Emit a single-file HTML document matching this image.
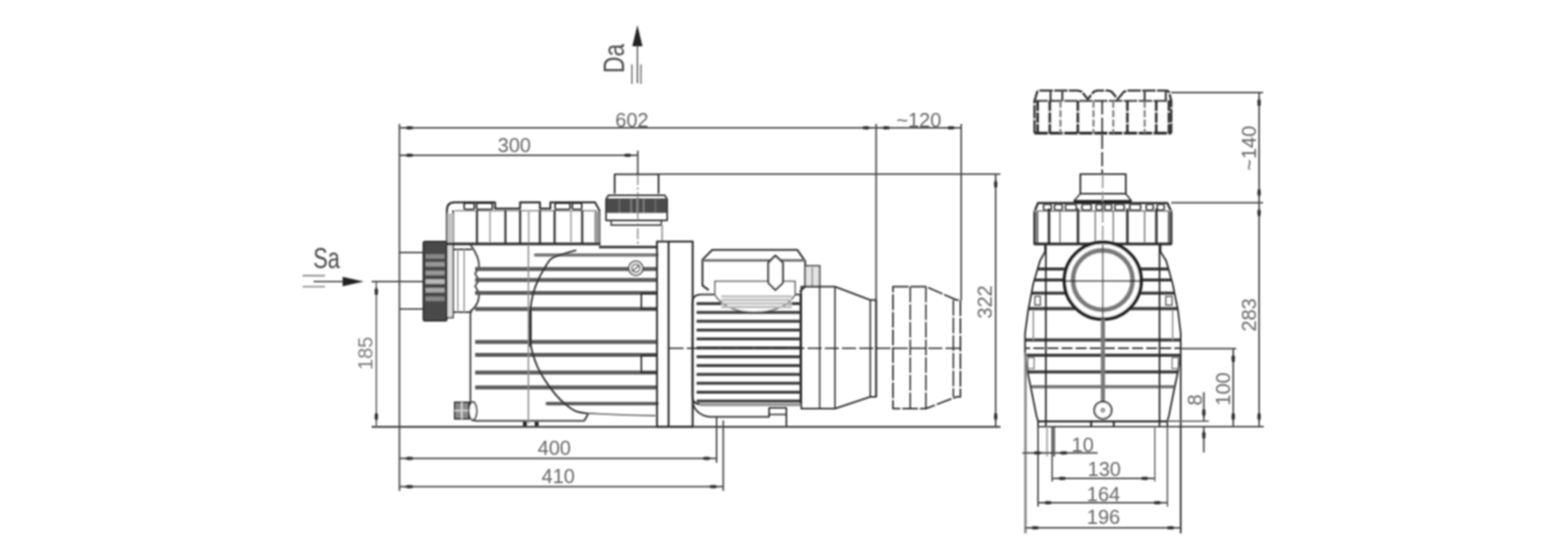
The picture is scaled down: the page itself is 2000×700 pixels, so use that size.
<!DOCTYPE html>
<html lang="en"><head><meta charset="utf-8"><title>Pump dimensions</title>
<style>
html,body{margin:0;padding:0;background:#fff;}
body{width:2000px;height:700px;overflow:hidden;}
svg{display:block;font-family:"Liberation Sans","DejaVu Sans",sans-serif;}
</style></head><body>
<svg width="2000" height="700" viewBox="0 0 2000 700">
<defs><filter id="soft" x="-2%" y="-2%" width="104%" height="104%"><feGaussianBlur stdDeviation="1.0"/></filter></defs>
<rect width="2000" height="700" fill="#fff"/>
<g filter="url(#soft)">
<line x1="509.5" y1="158" x2="509.5" y2="626" stroke="#444" stroke-width="2.0"/>
<line x1="509.5" y1="163" x2="1117.5" y2="163" stroke="#444" stroke-width="2.0"/>
<polygon points="515.5,163 520.45,160.7 526.5,161.16 526.5,164.84 520.45,165.3" fill="#333"/>
<polygon points="1111.5,163 1106.55,160.7 1100.5,161.16 1100.5,164.84 1106.55,165.3" fill="#333"/>
<text x="806" y="162" font-size="25.5" fill="#666" text-anchor="middle">602</text>
<line x1="509.5" y1="198" x2="813.5" y2="198" stroke="#444" stroke-width="2.0"/>
<polygon points="515.5,198 520.45,195.7 526.5,196.16 526.5,199.84 520.45,200.3" fill="#333"/>
<polygon points="807.5,198 802.55,195.7 796.5,196.16 796.5,199.84 802.55,200.3" fill="#333"/>
<text x="656" y="194" font-size="25.5" fill="#666" text-anchor="middle">300</text>
<line x1="813.5" y1="192" x2="813.5" y2="222" stroke="#444" stroke-width="2.0"/>
<line x1="813.5" y1="222" x2="813.5" y2="312" stroke="#8a8a8a" stroke-width="1.75" stroke-dasharray="14 3 3 3"/>
<line x1="1117.5" y1="158" x2="1117.5" y2="506" stroke="#444" stroke-width="2.0"/>
<line x1="1226" y1="158" x2="1226" y2="383" stroke="#444" stroke-width="2.0"/>
<line x1="1117.5" y1="163" x2="1226" y2="163" stroke="#444" stroke-width="2.0"/>
<polygon points="1123.5,163 1128.45,160.7 1134.5,161.16 1134.5,164.84 1128.45,165.3" fill="#333"/>
<polygon points="1220,163 1215.05,160.7 1209,161.16 1209,164.84 1215.05,165.3" fill="#333"/>
<text x="1172" y="161.5" font-size="25.5" fill="#666" text-anchor="middle">~120</text>
<line x1="840" y1="222" x2="1276" y2="222" stroke="#444" stroke-width="2.0"/>
<line x1="1270" y1="222" x2="1270" y2="544" stroke="#444" stroke-width="2.0"/>
<polygon points="1270,228 1267.7,232.95 1268.16,239 1271.84,239 1272.3,232.95" fill="#333"/>
<polygon points="1270,538 1267.7,533.05 1268.16,527 1271.84,527 1272.3,533.05" fill="#333"/>
<text x="1265" y="385" font-size="25.5" fill="#666" text-anchor="middle" transform="rotate(-90 1265 385)">322</text>
<line x1="474" y1="544.3" x2="1276" y2="544.3" stroke="#444" stroke-width="2.38"/>
<line x1="480" y1="359" x2="480" y2="544" stroke="#666" stroke-width="1.88"/>
<polygon points="480,365 477.7,369.95 478.16,376 481.84,376 482.3,369.95" fill="#333"/>
<polygon points="480,538 477.7,533.05 478.16,527 481.84,527 482.3,533.05" fill="#333"/>
<text x="475" y="450.5" font-size="25.5" fill="#7a7a7a" text-anchor="middle" transform="rotate(-90 475 450.5)">185</text>
<line x1="474" y1="359" x2="540" y2="359" stroke="#444" stroke-width="1.88"/>
<line x1="509.5" y1="584.5" x2="914" y2="584.5" stroke="#444" stroke-width="2.0"/>
<polygon points="515.5,584.5 520.45,582.2 526.5,582.66 526.5,586.34 520.45,586.8" fill="#333"/>
<polygon points="908,584.5 903.05,582.2 897,582.66 897,586.34 903.05,586.8" fill="#333"/>
<text x="707" y="580" font-size="25.5" fill="#666" text-anchor="middle">400</text>
<line x1="509.5" y1="620.5" x2="922.5" y2="620.5" stroke="#444" stroke-width="2.0"/>
<polygon points="515.5,620.5 520.45,618.2 526.5,618.66 526.5,622.34 520.45,622.8" fill="#333"/>
<polygon points="916.5,620.5 911.55,618.2 905.5,618.66 905.5,622.34 911.55,622.8" fill="#333"/>
<text x="712" y="616" font-size="25.5" fill="#666" text-anchor="middle">410</text>
<line x1="914" y1="531" x2="914" y2="590" stroke="#444" stroke-width="2.0"/>
<line x1="922.5" y1="536" x2="922.5" y2="626" stroke="#444" stroke-width="2.0"/>
<text x="416.5" y="341.5" font-size="36" fill="#4a4a4a" text-anchor="middle" textLength="34" lengthAdjust="spacingAndGlyphs">Sa</text>
<line x1="400" y1="359" x2="440" y2="359" stroke="#555" stroke-width="2.0"/>
<polygon points="464,359 437,353 437,365" fill="#222"/>
<line x1="386" y1="351.5" x2="414.5" y2="351.5" stroke="#777" stroke-width="1.88"/>
<line x1="386" y1="365.5" x2="414.5" y2="365.5" stroke="#888" stroke-width="1.88"/>
<text x="795.5" y="74.5" font-size="36" fill="#4a4a4a" text-anchor="middle" transform="rotate(-90 795.5 74.5)" textLength="37" lengthAdjust="spacingAndGlyphs">Da</text>
<line x1="813" y1="58" x2="813" y2="106" stroke="#666" stroke-width="1.88"/>
<polygon points="813,32 806.5,59 819.5,59" fill="#222"/>
<line x1="806" y1="82" x2="806" y2="107" stroke="#777" stroke-width="1.88"/>
<line x1="817.5" y1="82" x2="817.5" y2="107" stroke="#777" stroke-width="1.88"/>
<line x1="509.5" y1="322" x2="540" y2="322" stroke="#444" stroke-width="2.0"/>
<line x1="509.5" y1="394" x2="540" y2="394" stroke="#444" stroke-width="2.0"/>
<rect x="540" y="308" width="30" height="101" stroke="#262626" stroke-width="1.88" fill="#4a4a4a" rx="2"/>
<line x1="543" y1="327" x2="567" y2="327" stroke="#888" stroke-width="5.62"/>
<line x1="543" y1="337" x2="567" y2="337" stroke="#999" stroke-width="5.62"/>
<line x1="543" y1="348" x2="567" y2="348" stroke="#999" stroke-width="5.62"/>
<line x1="543" y1="359" x2="567" y2="359" stroke="#bbb" stroke-width="5.62"/>
<line x1="543" y1="370" x2="567" y2="370" stroke="#aaa" stroke-width="5.62"/>
<line x1="543" y1="381" x2="567" y2="381" stroke="#888" stroke-width="5.62"/>
<rect x="570" y="312" width="8" height="93" stroke="#262626" stroke-width="1.75" fill="#ddd" rx="0"/>
<line x1="578" y1="318" x2="602" y2="318" stroke="#262626" stroke-width="1.88"/>
<line x1="578" y1="398" x2="602" y2="398" stroke="#262626" stroke-width="1.88"/>
<line x1="584" y1="318" x2="584" y2="398" stroke="#8a8a8a" stroke-width="1.62"/>
<line x1="592" y1="318" x2="592" y2="398" stroke="#8a8a8a" stroke-width="1.62"/>
<path d="M570,311 L570,268 Q570,258 580,258 L631.5,258 L631.5,266 L644.7,266 L663.4,266 L663.4,258 L688.7,258 L688.7,266 L702,266 L702,258 L759,258 L764.5,268 L764.5,311" stroke="#262626" stroke-width="2.38" fill="none" stroke-linejoin="round"/>
<line x1="578" y1="268" x2="578" y2="311" stroke="#262626" stroke-width="2.0"/>
<rect x="592" y="259" width="13" height="8" stroke="#262626" stroke-width="2.0" fill="none" rx="2"/>
<rect x="608" y="259" width="20" height="8" stroke="#262626" stroke-width="2.0" fill="none" rx="2"/>
<rect x="708" y="259" width="19" height="8" stroke="#262626" stroke-width="2.0" fill="none" rx="2"/>
<rect x="730" y="259" width="12" height="8" stroke="#262626" stroke-width="2.0" fill="none" rx="2"/>
<line x1="580" y1="268.5" x2="762" y2="268.5" stroke="#8a8a8a" stroke-width="1.75"/>
<line x1="608.4" y1="268" x2="608.4" y2="311" stroke="#262626" stroke-width="2.5"/>
<line x1="644.7" y1="268" x2="644.7" y2="311" stroke="#262626" stroke-width="2.5"/>
<line x1="663.4" y1="268" x2="663.4" y2="311" stroke="#262626" stroke-width="2.5"/>
<line x1="688.7" y1="268" x2="688.7" y2="311" stroke="#262626" stroke-width="2.5"/>
<line x1="707.4" y1="268" x2="707.4" y2="311" stroke="#262626" stroke-width="2.5"/>
<line x1="742.6" y1="268" x2="742.6" y2="311" stroke="#262626" stroke-width="2.5"/>
<rect x="758" y="270" width="6.5" height="41" stroke="#262626" stroke-width="0.0" fill="#9a9a9a" rx="0"/>
<rect x="570.5" y="272" width="7.5" height="39" stroke="#262626" stroke-width="0.0" fill="#c4c4c4" rx="0"/>
<line x1="625" y1="268" x2="625" y2="311" stroke="#aaa" stroke-width="2.25"/>
<line x1="674.4" y1="268" x2="674.4" y2="311" stroke="#aaa" stroke-width="2.25"/>
<line x1="728.3" y1="268" x2="728.3" y2="311" stroke="#aaa" stroke-width="2.25"/>
<line x1="570" y1="311" x2="766" y2="311" stroke="#333" stroke-width="3.5"/>
<path d="M600,312 Q612,328 611,341 L606,349 L611,357 L606,365 L611,373 Q612,388 600,397 L600,530 Q600,536.7 608,536.7 L745,536.7" stroke="#444" stroke-width="2.25" fill="none" stroke-linejoin="round"/>
<line x1="764" y1="315" x2="838" y2="315" stroke="#262626" stroke-width="3.0"/>
<line x1="606" y1="343" x2="838" y2="343" stroke="#585858" stroke-width="4.88"/>
<line x1="606" y1="357" x2="838" y2="357" stroke="#585858" stroke-width="4.88"/>
<line x1="606" y1="373.5" x2="838" y2="373.5" stroke="#585858" stroke-width="4.88"/>
<line x1="606" y1="394" x2="838" y2="394" stroke="#585858" stroke-width="4.88"/>
<line x1="606" y1="436" x2="838" y2="436" stroke="#585858" stroke-width="4.88"/>
<line x1="606" y1="452.5" x2="838" y2="452.5" stroke="#585858" stroke-width="4.88"/>
<line x1="606" y1="475" x2="838" y2="475" stroke="#585858" stroke-width="4.88"/>
<line x1="606" y1="494" x2="838" y2="494" stroke="#585858" stroke-width="4.88"/>
<line x1="683" y1="325" x2="838" y2="325" stroke="#777" stroke-width="4.25" stroke-linecap="round"/>
<line x1="698" y1="514.5" x2="838" y2="514.5" stroke="#555" stroke-width="4.25" stroke-linecap="round"/>
<line x1="674" y1="312" x2="674" y2="540" stroke="#8a8a8a" stroke-width="1.75"/>
<path d="M735,319 C732.2,319.8 723.3,322.2 718,324 C712.7,325.8 707.0,326.8 703,330 C699.0,333.2 696.8,338.5 694,343 C691.2,347.5 688.7,351.7 686.4,357 C684.1,362.3 681.6,368.3 680,374.6 C678.4,380.9 677.2,385.1 676.6,395 C676.0,404.9 675.9,424.6 676.4,434 C676.9,443.4 678.1,445.6 679.7,451.4 C681.3,457.2 683.3,462.9 686,468.6 C688.7,474.3 691.9,480.0 695.7,485.7 C699.5,491.4 704.3,498.0 708.6,503 C712.9,508.0 717.2,512.2 721.5,515.8 C725.8,519.3 729.5,522.3 734.3,524.3 C739.1,526.2 747.7,527.0 750.4,527.5 L745,536.7" stroke="#262626" stroke-width="2.12" fill="none" stroke-linejoin="round"/>
<line x1="676.5" y1="396" x2="676.5" y2="442" stroke="#222" stroke-width="3.25"/>
<path d="M750,527 Q790,529 836,530" stroke="#666" stroke-width="1.88" fill="none" stroke-linejoin="round"/>
<rect x="818" y="374" width="20" height="20" stroke="#262626" stroke-width="2.0" fill="none" rx="0"/>
<rect x="818" y="453" width="20" height="22" stroke="#262626" stroke-width="2.0" fill="none" rx="0"/>
<circle cx="811" cy="342" r="9" stroke="#444" stroke-width="2.0" fill="#fff"/>
<circle cx="811" cy="342" r="5" stroke="#555" stroke-width="1.88" fill="none"/>
<line x1="806" y1="346" x2="816" y2="338" stroke="#555" stroke-width="1.75"/>
<rect x="580" y="513" width="18" height="21" stroke="#262626" stroke-width="2.0" fill="#8a8a8a" rx="0"/>
<line x1="589" y1="513" x2="589" y2="534" stroke="#ddd" stroke-width="1.88"/>
<line x1="580" y1="523.5" x2="598" y2="523.5" stroke="#ddd" stroke-width="1.88"/>
<ellipse cx="603" cy="524" rx="5" ry="11.5" stroke="#262626" stroke-width="2.0" fill="#fff"/>
<rect x="667" y="538" width="5" height="5" stroke="#262626" stroke-width="0.0" fill="#222" rx="0"/>
<rect x="682" y="538" width="5" height="5" stroke="#262626" stroke-width="0.0" fill="#222" rx="0"/>
<path d="M784,247 L784,222.3 L840,222.3 L840,247" stroke="#262626" stroke-width="2.12" fill="none" stroke-linejoin="round"/>
<path d="M776,249 L848,249 L851,254 L851,281 L773,281 L773,254 Z" stroke="#262626" stroke-width="2.0" fill="none" stroke-linejoin="round"/>
<rect x="773.5" y="253" width="77" height="18.5" stroke="#262626" stroke-width="0.0" fill="#4c4c4c" rx="0"/>
<line x1="805" y1="254" x2="805" y2="271" stroke="#7a7a7a" stroke-width="2.5"/>
<line x1="813" y1="254" x2="813" y2="271" stroke="#8a8a8a" stroke-width="2.5"/>
<line x1="821" y1="254" x2="821" y2="271" stroke="#7a7a7a" stroke-width="2.5"/>
<line x1="790" y1="254" x2="790" y2="271" stroke="#666" stroke-width="2.5"/>
<line x1="836" y1="254" x2="836" y2="271" stroke="#666" stroke-width="2.5"/>
<rect x="779.5" y="281" width="64" height="6" stroke="#262626" stroke-width="1.75" fill="none" rx="0"/>
<line x1="844.5" y1="287" x2="844.5" y2="308" stroke="#8a8a8a" stroke-width="1.88"/>
<rect x="838" y="308" width="45.5" height="236" stroke="#262626" stroke-width="2.38" fill="none" rx="0"/>
<line x1="852.8" y1="308" x2="852.8" y2="544" stroke="#262626" stroke-width="2.38"/>
<path d="M883,387 Q883,375.5 894,375.5 L1021,375.5 L1021,515.5 L894,515.5 Q883,515.5 883,505 Z" stroke="#262626" stroke-width="2.12" fill="none" stroke-linejoin="round"/>
<line x1="888.5" y1="387.0" x2="1021" y2="387.0" stroke="#3a3a3a" stroke-width="3.75"/>
<line x1="888.5" y1="398.3" x2="1021" y2="398.3" stroke="#3a3a3a" stroke-width="3.75"/>
<line x1="888.5" y1="409.6" x2="1021" y2="409.6" stroke="#3a3a3a" stroke-width="3.75"/>
<line x1="888.5" y1="420.9" x2="1021" y2="420.9" stroke="#3a3a3a" stroke-width="3.75"/>
<line x1="888.5" y1="432.2" x2="1021" y2="432.2" stroke="#3a3a3a" stroke-width="3.75"/>
<line x1="888.5" y1="443.5" x2="1021" y2="443.5" stroke="#3a3a3a" stroke-width="3.75"/>
<line x1="888.5" y1="454.8" x2="1021" y2="454.8" stroke="#3a3a3a" stroke-width="3.75"/>
<line x1="888.5" y1="466.1" x2="1021" y2="466.1" stroke="#3a3a3a" stroke-width="3.75"/>
<line x1="888.5" y1="477.4" x2="1021" y2="477.4" stroke="#3a3a3a" stroke-width="3.75"/>
<line x1="888.5" y1="488.7" x2="1021" y2="488.7" stroke="#3a3a3a" stroke-width="3.75"/>
<line x1="888.5" y1="500.0" x2="1021" y2="500.0" stroke="#3a3a3a" stroke-width="3.75"/>
<line x1="888.5" y1="511.3" x2="1021" y2="511.3" stroke="#3a3a3a" stroke-width="3.75"/>
<line x1="893" y1="516" x2="1021" y2="516" stroke="#999" stroke-width="3.75"/>
<path d="M904,370 L896,364 L896,331 L908.5,318.6 L1017,318.6 L1027,333 L1027,365.5 L1020,372" stroke="#262626" stroke-width="2.25" fill="none" stroke-linejoin="round"/>
<line x1="896" y1="332" x2="1027" y2="332" stroke="#666" stroke-width="3.0"/>
<path d="M912,358.6 L1014,358.6 L1014,376 Q1000,398 962,398 Q926,398 912,376 Z" stroke="#555" stroke-width="1.88" fill="#fff" stroke-linejoin="round"/>
<line x1="920" y1="378" x2="1010" y2="378" stroke="#bbb" stroke-width="3.0"/>
<line x1="920" y1="382.5" x2="1010" y2="382.5" stroke="#bbb" stroke-width="3.0"/>
<line x1="920" y1="387" x2="1010" y2="387" stroke="#bbb" stroke-width="3.0"/>
<line x1="920" y1="391.5" x2="1010" y2="391.5" stroke="#bbb" stroke-width="3.0"/>
<path d="M989,326 L998.5,335 L998.5,361 L989,370 L980,361 L980,335 Z" stroke="#262626" stroke-width="2.5" fill="#fff" stroke-linejoin="round"/>
<rect x="1027" y="339" width="18.5" height="26" stroke="#444" stroke-width="2.12" fill="#e4e4e4" rx="0"/>
<line x1="1036" y1="341" x2="1036" y2="364" stroke="#8a8a8a" stroke-width="1.88"/>
<path d="M1022,365.5 L1065,365.5 L1110,382.5 L1117.5,382.5 L1117.5,506 L1110,506 L1065,521 L1022,521 Z" stroke="#262626" stroke-width="2.0" fill="none" stroke-linejoin="round"/>
<line x1="1045.5" y1="365.5" x2="1045.5" y2="521" stroke="#262626" stroke-width="1.75"/>
<line x1="1065" y1="365.5" x2="1065" y2="521" stroke="#262626" stroke-width="1.75"/>
<line x1="1110" y1="382.5" x2="1110" y2="506" stroke="#262626" stroke-width="1.75"/>
<path d="M1139,365.5 L1181,365.5 L1220,382.5 L1225,382.5 L1225,506 L1220,506 L1181,521 L1139,521 Z" stroke="#262626" stroke-width="2.0" fill="none" stroke-linejoin="round" stroke-dasharray="20 2.5"/>
<line x1="1161" y1="365.5" x2="1161" y2="521" stroke="#262626" stroke-width="1.75" stroke-dasharray="20 2.5"/>
<line x1="1181" y1="365.5" x2="1181" y2="521" stroke="#262626" stroke-width="1.75" stroke-dasharray="20 2.5"/>
<line x1="1216" y1="382.5" x2="1216" y2="506" stroke="#262626" stroke-width="1.75" stroke-dasharray="20 2.5"/>
<line x1="854" y1="444" x2="1226" y2="444" stroke="#262626" stroke-width="1.75" stroke-dasharray="18 4"/>
<path d="M884,515 Q888,529 905,531.5 L981,531.5 L981,520 L1003,520 L1003,544" stroke="#262626" stroke-width="2.0" fill="none" stroke-linejoin="round"/>
<line x1="981" y1="528.5" x2="1003" y2="528.5" stroke="#262626" stroke-width="1.75"/>
<path d="M1319.5,169.7 L1319.5,128.6 L1323,117 L1326,115.5 L1375,115.5 L1380,117 L1387.5,126.5 L1395,117 L1399,115.5 L1414,115.5 L1418,117 L1425.7,126.5 L1433.5,117 L1438,115.5 L1488,115.5 L1491,117 L1494,128.6 L1494,169.7" stroke="#262626" stroke-width="2.62" fill="none" stroke-linejoin="round" stroke-dasharray="17 1.8"/>
<line x1="1319.5" y1="169.7" x2="1494" y2="169.7" stroke="#262626" stroke-width="3.5" stroke-dasharray="17 2"/>
<line x1="1319.5" y1="128.6" x2="1494" y2="128.6" stroke="#333" stroke-width="2.38" stroke-dasharray="17 2"/>
<line x1="1323.5" y1="128.6" x2="1323.5" y2="169.7" stroke="#262626" stroke-width="3.12" stroke-dasharray="13 1.8"/>
<line x1="1339" y1="128.6" x2="1339" y2="169.7" stroke="#262626" stroke-width="3.12" stroke-dasharray="13 1.8"/>
<line x1="1374.8" y1="128.6" x2="1374.8" y2="169.7" stroke="#262626" stroke-width="3.12" stroke-dasharray="13 1.8"/>
<line x1="1438" y1="128.6" x2="1438" y2="169.7" stroke="#262626" stroke-width="3.12" stroke-dasharray="13 1.8"/>
<line x1="1474.8" y1="128.6" x2="1474.8" y2="169.7" stroke="#262626" stroke-width="3.12" stroke-dasharray="13 1.8"/>
<line x1="1491" y1="128.6" x2="1491" y2="169.7" stroke="#262626" stroke-width="3.12" stroke-dasharray="13 1.8"/>
<line x1="1352.6" y1="128.6" x2="1352.6" y2="169.7" stroke="#777" stroke-width="2.5" stroke-dasharray="9 3"/>
<line x1="1394.8" y1="128.6" x2="1394.8" y2="169.7" stroke="#777" stroke-width="2.5" stroke-dasharray="9 3"/>
<line x1="1420" y1="128.6" x2="1420" y2="169.7" stroke="#777" stroke-width="2.5" stroke-dasharray="9 3"/>
<line x1="1460" y1="128.6" x2="1460" y2="169.7" stroke="#777" stroke-width="2.5" stroke-dasharray="9 3"/>
<line x1="1340" y1="117" x2="1340" y2="128" stroke="#333" stroke-width="2.5"/>
<line x1="1355" y1="117" x2="1355" y2="128" stroke="#333" stroke-width="2.5"/>
<line x1="1460" y1="117" x2="1460" y2="128" stroke="#333" stroke-width="2.5"/>
<line x1="1487" y1="117" x2="1487" y2="128" stroke="#333" stroke-width="2.5"/>
<line x1="1405.8" y1="128" x2="1405.8" y2="222" stroke="#262626" stroke-width="2.0" stroke-dasharray="18 4"/>
<line x1="1494" y1="118" x2="1611" y2="118" stroke="#444" stroke-width="2.0"/>
<line x1="1494" y1="258.5" x2="1611" y2="258.5" stroke="#444" stroke-width="2.0"/>
<line x1="1606" y1="118" x2="1606" y2="258.5" stroke="#444" stroke-width="2.0"/>
<polygon points="1606,124 1603.7,128.95 1604.16,135 1607.84,135 1608.3,128.95" fill="#333"/>
<polygon points="1606,252.5 1603.7,247.55 1604.16,241.5 1607.84,241.5 1608.3,247.55" fill="#333"/>
<text x="1601.5" y="189" font-size="25.5" fill="#666" text-anchor="middle" transform="rotate(-90 1601.5 189)">~140</text>
<line x1="1606" y1="258.5" x2="1606" y2="544" stroke="#444" stroke-width="2.0"/>
<polygon points="1606,264.5 1603.7,269.45 1604.16,275.5 1607.84,275.5 1608.3,269.45" fill="#333"/>
<polygon points="1606,538 1603.7,533.05 1604.16,527 1607.84,527 1608.3,533.05" fill="#333"/>
<text x="1601.5" y="401.5" font-size="25.5" fill="#666" text-anchor="middle" transform="rotate(-90 1601.5 401.5)">283</text>
<line x1="1324" y1="544" x2="1612" y2="544" stroke="#444" stroke-width="2.12"/>
<path d="M1378,247 L1378,222 L1436,222 L1436,247" stroke="#262626" stroke-width="2.12" fill="none" stroke-linejoin="round"/>
<path d="M1378,247 L1370,256 L1443,256 L1436,247 Z" stroke="#262626" stroke-width="1.88" fill="none" stroke-linejoin="round"/>
<line x1="1370" y1="257" x2="1443" y2="257" stroke="#222" stroke-width="3.75"/>
<line x1="1406.5" y1="222" x2="1406.5" y2="312" stroke="#8a8a8a" stroke-width="1.75" stroke-dasharray="18 4"/>
<path d="M1319.5,311 L1319.5,270 L1324,258.8 L1489,258.8 L1494,270 L1494,311 Z" stroke="#262626" stroke-width="2.75" fill="none" stroke-linejoin="round"/>
<line x1="1319" y1="269" x2="1494" y2="269" stroke="#8a8a8a" stroke-width="1.88"/>
<rect x="1331" y="260.5" width="10" height="7.5" stroke="#444" stroke-width="2.12" fill="none" rx="2.5"/>
<rect x="1345" y="260.5" width="10" height="7.5" stroke="#444" stroke-width="2.12" fill="none" rx="2.5"/>
<rect x="1359" y="260.5" width="14" height="7.5" stroke="#444" stroke-width="2.12" fill="none" rx="2.5"/>
<rect x="1380" y="260.5" width="12" height="7.5" stroke="#444" stroke-width="2.12" fill="none" rx="2.5"/>
<rect x="1398" y="260.5" width="8" height="7.5" stroke="#444" stroke-width="2.12" fill="none" rx="2.5"/>
<rect x="1409" y="260.5" width="9" height="7.5" stroke="#444" stroke-width="2.12" fill="none" rx="2.5"/>
<rect x="1422" y="260.5" width="12" height="7.5" stroke="#444" stroke-width="2.12" fill="none" rx="2.5"/>
<rect x="1441" y="260.5" width="14" height="7.5" stroke="#444" stroke-width="2.12" fill="none" rx="2.5"/>
<rect x="1462" y="260.5" width="9" height="7.5" stroke="#444" stroke-width="2.12" fill="none" rx="2.5"/>
<rect x="1476" y="260.5" width="9" height="7.5" stroke="#444" stroke-width="2.12" fill="none" rx="2.5"/>
<line x1="1338" y1="266" x2="1338" y2="311" stroke="#262626" stroke-width="3.0"/>
<line x1="1375" y1="266" x2="1375" y2="311" stroke="#262626" stroke-width="3.0"/>
<line x1="1438" y1="266" x2="1438" y2="311" stroke="#262626" stroke-width="3.0"/>
<line x1="1475" y1="266" x2="1475" y2="311" stroke="#262626" stroke-width="3.0"/>
<line x1="1352" y1="269" x2="1352" y2="311" stroke="#888" stroke-width="2.0"/>
<line x1="1397" y1="269" x2="1397" y2="311" stroke="#888" stroke-width="2.0"/>
<line x1="1420" y1="269" x2="1420" y2="311" stroke="#888" stroke-width="2.0"/>
<line x1="1460" y1="269" x2="1460" y2="311" stroke="#888" stroke-width="2.0"/>
<line x1="1323" y1="270" x2="1323" y2="311" stroke="#555" stroke-width="2.5"/>
<line x1="1491" y1="270" x2="1491" y2="311" stroke="#555" stroke-width="2.5"/>
<line x1="1319" y1="311" x2="1494" y2="311" stroke="#262626" stroke-width="3.0"/>
<clipPath id="rb"><path d="M1333,311 L1333,321 L1326.5,332.6 L1318,361.7 L1311.4,396 L1307.5,425 L1307.5,452 L1311,476 L1316,500 L1322,530 L1324,537 L1489,537 L1491,530 L1497,500 L1502,476 L1506,452 L1506,425 L1502.6,396 L1495.7,361.7 L1487.5,332.6 L1480.3,321 L1480.3,311 Z"/></clipPath>
<g clip-path="url(#rb)">
<line x1="1300" y1="343" x2="1515" y2="343" stroke="#3a3a3a" stroke-width="4.0"/>
<line x1="1300" y1="357" x2="1515" y2="357" stroke="#3a3a3a" stroke-width="4.0"/>
<line x1="1300" y1="373.7" x2="1515" y2="373.7" stroke="#3a3a3a" stroke-width="4.0"/>
<line x1="1300" y1="393.4" x2="1515" y2="393.4" stroke="#3a3a3a" stroke-width="4.0"/>
<line x1="1300" y1="433.6" x2="1515" y2="433.6" stroke="#3a3a3a" stroke-width="4.0"/>
<line x1="1300" y1="453" x2="1515" y2="453" stroke="#3a3a3a" stroke-width="4.0"/>
<line x1="1300" y1="474.3" x2="1515" y2="474.3" stroke="#3a3a3a" stroke-width="4.0"/>
<line x1="1300" y1="493" x2="1515" y2="493" stroke="#777" stroke-width="4.25"/>
<line x1="1300" y1="444" x2="1515" y2="444" stroke="#262626" stroke-width="1.88" stroke-dasharray="14 4"/>
<line x1="1318" y1="396" x2="1318" y2="434" stroke="#8a8a8a" stroke-width="1.75"/>
<line x1="1495.7" y1="396" x2="1495.7" y2="434" stroke="#8a8a8a" stroke-width="1.75"/>
</g>
<path d="M1333,311 L1333,321 L1326.5,332.6 L1318,361.7 L1311.4,396 L1307.5,425 L1307.5,452 L1311,476 L1316,500 L1322,530 L1324,537 L1489,537 L1491,530 L1497,500 L1502,476 L1506,452 L1506,425 L1502.6,396 L1495.7,361.7 L1487.5,332.6 L1480.3,321 L1480.3,311 Z" stroke="#262626" stroke-width="2.12" fill="none" stroke-linejoin="round"/>
<line x1="1334" y1="311" x2="1334" y2="544" stroke="#262626" stroke-width="2.12"/>
<line x1="1479" y1="311" x2="1479" y2="544" stroke="#262626" stroke-width="2.12"/>
<rect x="1320" y="378" width="7" height="11" stroke="#555" stroke-width="1.62" fill="none" rx="0"/>
<rect x="1487" y="378" width="8" height="11" stroke="#555" stroke-width="1.62" fill="none" rx="0"/>
<rect x="1311" y="456" width="8" height="14" stroke="#777" stroke-width="1.5" fill="none" rx="0"/>
<rect x="1495" y="456" width="8" height="14" stroke="#777" stroke-width="1.5" fill="none" rx="0"/>
<circle cx="1406.6" cy="358" r="49" stroke="#222" stroke-width="4.5" fill="#fff"/>
<circle cx="1406.6" cy="357" r="38" stroke="#7a7a7a" stroke-width="6.25" fill="#fff"/>
<line x1="1360" y1="358.3" x2="1454.5" y2="358.3" stroke="#262626" stroke-width="1.88"/>
<line x1="1406.6" y1="312" x2="1406.6" y2="407" stroke="#555" stroke-width="1.88"/>
<line x1="1406.8" y1="407" x2="1406.8" y2="512" stroke="#787878" stroke-width="5.25"/>
<circle cx="1406.8" cy="523" r="11" stroke="#262626" stroke-width="2.25" fill="#fff"/>
<circle cx="1406.8" cy="523" r="2" stroke="#262626" stroke-width="1.5" fill="none"/>
<line x1="1324" y1="537.5" x2="1489" y2="537.5" stroke="#262626" stroke-width="2.0"/>
<line x1="1324" y1="537" x2="1324" y2="544" stroke="#262626" stroke-width="2.0"/>
<line x1="1489" y1="537" x2="1489" y2="544" stroke="#262626" stroke-width="2.0"/>
<line x1="1391.8" y1="537" x2="1391.8" y2="544" stroke="#262626" stroke-width="2.5"/>
<line x1="1420.7" y1="537" x2="1420.7" y2="544" stroke="#262626" stroke-width="2.5"/>
<line x1="1308" y1="450" x2="1308" y2="680" stroke="#8a8a8a" stroke-width="3.25"/>
<line x1="1506" y1="450" x2="1506" y2="680" stroke="#333" stroke-width="2.25"/>
<line x1="1307.5" y1="673" x2="1506" y2="673" stroke="#444" stroke-width="2.0"/>
<polygon points="1313.5,673 1318.45,670.7 1324.5,671.16 1324.5,674.84 1318.45,675.3" fill="#333"/>
<polygon points="1500,673 1495.05,670.7 1489,671.16 1489,674.84 1495.05,675.3" fill="#333"/>
<text x="1407.5" y="668" font-size="25.5" fill="#666" text-anchor="middle">196</text>
<line x1="1324" y1="544" x2="1324" y2="646" stroke="#444" stroke-width="2.0"/>
<line x1="1489" y1="544" x2="1489" y2="646" stroke="#666" stroke-width="2.0"/>
<line x1="1324" y1="641" x2="1489" y2="641" stroke="#444" stroke-width="2.0"/>
<polygon points="1330,641 1334.95,638.7 1341,639.16 1341,642.84 1334.95,643.3" fill="#333"/>
<polygon points="1483,641 1478.05,638.7 1472,639.16 1472,642.84 1478.05,643.3" fill="#333"/>
<text x="1407.5" y="639" font-size="25.5" fill="#666" text-anchor="middle">164</text>
<line x1="1342" y1="544" x2="1342" y2="614" stroke="#555" stroke-width="2.0"/>
<line x1="1473" y1="544" x2="1473" y2="614" stroke="#777" stroke-width="2.0"/>
<line x1="1342" y1="610" x2="1473" y2="610" stroke="#444" stroke-width="2.0"/>
<polygon points="1348,610 1352.95,607.7 1359,608.16 1359,611.84 1352.95,612.3" fill="#333"/>
<polygon points="1467,610 1462.05,607.7 1456,608.16 1456,611.84 1462.05,612.3" fill="#333"/>
<text x="1408.5" y="607" font-size="25.5" fill="#666" text-anchor="middle">130</text>
<line x1="1335.5" y1="544" x2="1335.5" y2="582" stroke="#999" stroke-width="1.88"/>
<line x1="1344.5" y1="544" x2="1344.5" y2="582" stroke="#444" stroke-width="2.12"/>
<line x1="1304" y1="577.5" x2="1400" y2="577.5" stroke="#444" stroke-width="1.88"/>
<polygon points="1330,577.5 1325.05,575.2 1319,575.66 1319,579.34 1325.05,579.8" fill="#333"/>
<polygon points="1350,577.5 1354.95,575.2 1361,575.66 1361,579.34 1354.95,579.8" fill="#333"/>
<text x="1381" y="576" font-size="25.5" fill="#666" text-anchor="middle">10</text>
<line x1="1506" y1="444.4" x2="1577" y2="444.4" stroke="#444" stroke-width="2.0"/>
<line x1="1573" y1="444.4" x2="1573" y2="544" stroke="#444" stroke-width="2.0"/>
<polygon points="1573,450.4 1570.7,455.34999999999997 1571.16,461.4 1574.84,461.4 1575.3,455.34999999999997" fill="#333"/>
<polygon points="1573,538 1570.7,533.05 1571.16,527 1574.84,527 1575.3,533.05" fill="#333"/>
<text x="1568.5" y="496" font-size="25.5" fill="#666" text-anchor="middle" transform="rotate(-90 1568.5 496)">100</text>
<line x1="1489" y1="537" x2="1542" y2="537" stroke="#666" stroke-width="1.88"/>
<line x1="1535.5" y1="500" x2="1535.5" y2="537" stroke="#444" stroke-width="2.0"/>
<polygon points="1535.5,533 1533.2,528.05 1533.66,522 1537.34,522 1537.8,528.05" fill="#333"/>
<line x1="1535.5" y1="544" x2="1535.5" y2="577" stroke="#444" stroke-width="2.0"/>
<polygon points="1535.5,548 1533.2,552.95 1533.66,559 1537.34,559 1537.8,552.95" fill="#333"/>
<text x="1532.5" y="510" font-size="25.5" fill="#666" text-anchor="middle" transform="rotate(-90 1532.5 510)">8</text>
</g>
</svg>
</body></html>
